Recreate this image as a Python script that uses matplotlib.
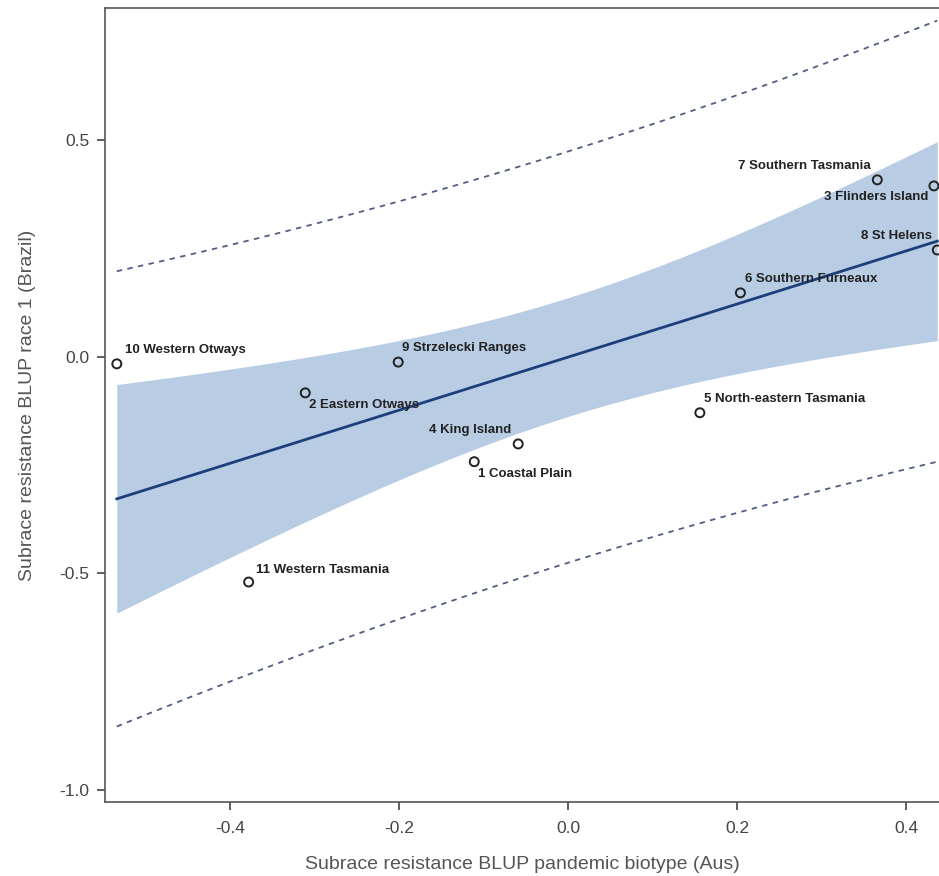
import matplotlib
matplotlib.use("Agg")
import matplotlib.pyplot as plt
import numpy as np

# populations and BLUP values
names = ["1 Coastal Plain", "2 Eastern Otways", "3 Flinders Island", "4 King Island",
         "5 North-eastern Tasmania", "6 Southern Furneaux", "7 Southern Tasmania",
         "8 St Helens", "9 Strzelecki Ranges", "10 Western Otways", "11 Western Tasmania"]
blup_aus = [-0.111, -0.311, 0.433, -0.059, 0.156, 0.204, 0.366, 0.437, -0.201, -0.534, -0.378]
blup_brazil = [-0.242, -0.083, 0.395, -0.201, -0.129, 0.148, 0.409, 0.247, -0.012, -0.016, -0.520]

# label placement (offset in points, horizontal alignment)
label_offsets = [(3, -9, "left"), (3, -9, "left"), (-4, -8, "right"), (-5, 10, "right"),
                 (3, 10, "left"), (3, 10, "left"), (-5, 10, "right"), (-4, 10, "right"),
                 (3, 10, "left"), (6, 10, "left"), (5, 9, "left")]

T_CRIT = 2.262  # t(0.975, df=9)


def fit_bands(x, y):
    x = np.asarray(x)
    y = np.asarray(y)
    n = len(x)
    b, a = np.polyfit(x, y, 1)
    resid = y - (a + b * x)
    s = np.sqrt(np.sum(resid ** 2) / (n - 2))
    sxx = np.sum((x - x.mean()) ** 2)
    xs = np.linspace(x.min(), x.max(), 200)
    fit = a + b * xs
    ci = T_CRIT * s * np.sqrt(1.0 / n + (xs - x.mean()) ** 2 / sxx)
    pi = T_CRIT * s * np.sqrt(1 + 1.0 / n + (xs - x.mean()) ** 2 / sxx)
    return xs, fit, ci, pi


def main():
    fig = plt.figure(figsize=(9.39, 8.76), dpi=100)
    ax = fig.add_axes([0.1118, 0.0845, 0.8882, 0.9064])

    xs, fit, ci, pi = fit_bands(blup_aus, blup_brazil)
    ax.fill_between(xs, fit - ci, fit + ci, color="#b8cce4", lw=0, zorder=1)
    ax.plot(xs, fit, color="#1c3f7c", lw=2, zorder=3)
    ax.plot(xs, fit + pi, color="#525d84", lw=1.3, ls=(0, (3, 3)), zorder=2)
    ax.plot(xs, fit - pi, color="#525d84", lw=1.3, ls=(0, (3, 3)), zorder=2)

    ax.scatter(blup_aus, blup_brazil, s=42, facecolors="none", edgecolors="#222222",
               linewidths=1.4, zorder=4)
    for name, x, y, (dx, dy, ha) in zip(names, blup_aus, blup_brazil, label_offsets):
        ax.annotate(name, (x, y), xytext=(dx, dy), textcoords="offset points",
                    ha=ha, va="center", fontsize=9.5, color="#222222",
                    fontfamily="Liberation Sans", fontweight="bold", zorder=5)

    ax.set_xlim(-0.548, 0.439)
    ax.set_ylim(-1.028, 0.806)
    ax.set_xticks([-0.4, -0.2, 0.0, 0.2, 0.4])
    ax.set_yticks([-1.0, -0.5, 0.0, 0.5])
    ax.set_xticklabels(["-0.4", "-0.2", "0.0", "0.2", "0.4"])
    ax.set_yticklabels(["-1.0", "-0.5", "0.0", "0.5"])
    ax.tick_params(colors="#444444", labelsize=12.5, length=6, width=1.2, pad=5)
    ax.tick_params(axis="x", pad=8)
    for lab in ax.get_xticklabels() + ax.get_yticklabels():
        lab.set_fontfamily("Liberation Sans")
    ax.spines["right"].set_visible(False)
    for sp in ["left", "top", "bottom"]:
        ax.spines[sp].set_color("#555555")
        ax.spines[sp].set_linewidth(1.2)

    ax.set_xlabel("Subrace resistance BLUP pandemic biotype (Aus)", fontsize=14,
                  color="#555555", fontfamily="Liberation Sans", labelpad=14)
    ax.set_ylabel("Subrace resistance BLUP race 1 (Brazil)", fontsize=14,
                  color="#555555", fontfamily="Liberation Sans", labelpad=17)

    fig.savefig("out.png", dpi=100)


if __name__ == "__main__":
    main()
